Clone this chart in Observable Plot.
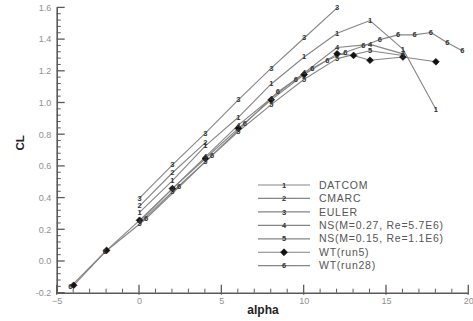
<!DOCTYPE html>
<html><head><meta charset="utf-8">
<script src="https://cdn.jsdelivr.net/npm/d3@7"></script>
<script src="https://cdn.jsdelivr.net/npm/@observablehq/plot@0.6"></script>
<style>body{margin:0;background:#fff}</style>
</head><body><div id="chart"></div>
<script>
// ---- data ----
const seriesNames = ["DATCOM","CMARC","EULER","NS(M=0.27, Re=5.7E6)","NS(M=0.15, Re=1.1E6)","WT(run5)","WT(run28)"];
const seriesSymbols = ["1","2","3","4","5","filled","6"];

const datcomAlpha = [0,2,4,6,8,10,12,14,16,18];
const datcomCL    = [0.31,0.51,0.73,0.91,1.12,1.29,1.44,1.52,1.34,0.96];
const cmarcAlpha  = [0,2,4];
const cmarcCL     = [0.35,0.56,0.75];
const eulerAlpha  = [0,2,4,6,8,10,12];
const eulerCL     = [0.40,0.61,0.81,1.02,1.22,1.41,1.60];
const ns27Alpha   = [0,2,4,6,8,10,12,14,16];
const ns27CL      = [0.25,0.46,0.66,0.86,1.03,1.19,1.35,1.37,1.31];
const ns15Alpha   = [0,2,4,6,8,10,12,14,16];
const ns15CL      = [0.24,0.44,0.63,0.82,0.99,1.15,1.28,1.33,1.30];
const wt5Alpha    = [-4,-2,0,2,4,6,8,10,12,13,14,16,18];
const wt5CL       = [-0.15,0.07,0.26,0.46,0.65,0.84,1.02,1.18,1.31,1.30,1.27,1.29,1.26];
const wt28Alpha   = [-4.2,-2.1,0.4,2.4,4.4,6.4,8.4,9.5,10.5,11.4,12.5,13.6,14.6,15.7,16.7,17.7,18.7,19.6];
const wt28CL      = [-0.16,0.06,0.27,0.47,0.67,0.87,1.07,1.15,1.22,1.27,1.32,1.36,1.40,1.43,1.43,1.445,1.38,1.33];

const xTicks = [-5,0,5,10,15,20];
const yTicks = [-0.2,0,0.2,0.4,0.6,0.8,1.0,1.2,1.4,1.6];
const xMinor = [-4,-3,-2,-1,1,2,3,4,6,7,8,9,11,12,13,14,16,17,18,19];
const yMinor = [-0.16,-0.12,-0.08,-0.04,0.04,0.08,0.12,0.16,0.24,0.28,0.32,0.36,0.44,0.48,0.52,0.56,0.64,0.68,0.72,0.76,0.84,0.88,0.92,0.96,1.04,1.08,1.12,1.16,1.24,1.28,1.32,1.36,1.44,1.48,1.52,1.56];

// ---- build table ----
const alphaSets = [datcomAlpha,cmarcAlpha,eulerAlpha,ns27Alpha,ns15Alpha,wt5Alpha,wt28Alpha];
const clSets = [datcomCL,cmarcCL,eulerCL,ns27CL,ns15CL,wt5CL,wt28CL];
const rows = [];
seriesNames.forEach((name,i)=>{
  alphaSets[i].forEach((a,j)=>rows.push({series:name, alpha:a, cl:clSets[i][j], sym:seriesSymbols[i]}));
});

const xMin = xTicks[0], xMax = xTicks[xTicks.length-1];
const yMin = yTicks[0], yMax = yTicks[yTicks.length-1];
const lineGray = "#858585";
const axisGray = "#5a5a5a";

const plot = Plot.plot({
  width: 473, height: 321,
  marginLeft: 56.7, marginRight: 4.7, marginTop: 7.4, marginBottom: 28.3,
  style: {fontFamily: "'Liberation Sans', Arial, sans-serif", background: "#fff"},
  x: {type: "linear", domain: [xMin, xMax]},
  y: {type: "linear", domain: [yMin, yMax]},
  marks: [
    Plot.axisX({ticks: xTicks, tickSize: 0, tickPadding: 4, fontSize: 9, color: "#909090", label: null}),
    Plot.axisY({ticks: yTicks, tickSize: 0, tickPadding: 6, fontSize: 9, color: "#909090", label: null, tickFormat: d => d.toFixed(1)}),
    // axis lines
    Plot.ruleY([yMin], {stroke: axisGray, strokeWidth: 1.6}),
    Plot.ruleX([xMin], {stroke: axisGray, strokeWidth: 1.6}),
    // data lines
    Plot.line(rows, {x: "alpha", y: "cl", z: "series", stroke: lineGray, strokeWidth: 1.1}),
    Plot.dot(rows.filter(d=>d.sym==="filled"), {x: "alpha", y: "cl", symbol: "diamond2", r: 3, fill: "#111", stroke: "#111", strokeWidth: 0.8}),
    Plot.text(rows.filter(d=>d.sym!=="filled"), {x: "alpha", y: "cl", text: "sym", fontSize: 7.5, fontWeight: "bold", fill: "#333"}),
    // axis titles
    Plot.text(["CL"], {frameAnchor: "left", dx: -37, rotate: -90, fontSize: 11.5, fontWeight: "bold", fill: "#222"}),
    Plot.text(["alpha"], {frameAnchor: "bottom", dy: 20.5, fontSize: 12, fontWeight: "bold", fill: "#222"})
  ]
});
document.getElementById("chart").appendChild(plot);

// inward ticks + legend, drawn in the plot's svg using its scales
const sx = plot.scale("x"), sy = plot.scale("y");
const X = v => sx.apply(v), Y = v => sy.apply(v);
const svg = d3.select(plot);
const tg = svg.append("g").attr("stroke", axisGray);
xTicks.forEach(v => tg.append("line").attr("x1", X(v)).attr("x2", X(v)).attr("y1", Y(yMin)+2).attr("y2", Y(yMin)-8).attr("stroke-width", 1.3));
xMinor.forEach(v => tg.append("line").attr("x1", X(v)).attr("x2", X(v)).attr("y1", Y(yMin)).attr("y2", Y(yMin)-4));
yTicks.forEach(v => tg.append("line").attr("y1", Y(v)).attr("y2", Y(v)).attr("x1", X(xMin)).attr("x2", X(xMin)+8).attr("stroke-width", 1.3));
yMinor.forEach(v => tg.append("line").attr("y1", Y(v)).attr("y2", Y(v)).attr("x1", X(xMin)).attr("x2", X(xMin)+4));

// legend
const lg = svg.append("g").attr("font-family", "'Liberation Sans', Arial, sans-serif").attr("text-anchor", "start");
const lx0 = 258, lx1 = 310, lxs = 284, lxt = 319, ly0 = 185, ldy = 13.45;
seriesNames.forEach((name, i) => {
  const yy = ly0 + i * ldy;
  lg.append("line").attr("x1", lx0).attr("x2", lx1).attr("y1", yy).attr("y2", yy).attr("stroke", lineGray).attr("stroke-width", 1.2);
  if (seriesSymbols[i] === "filled") {
    lg.append("path").attr("d", d3.symbol(d3.symbolDiamond2, 30)()).attr("transform", `translate(${lxs},${yy})`).attr("fill", "#111").attr("stroke", "#111").attr("stroke-width", 0.8);
  } else {
    lg.append("text").attr("x", lxs).attr("y", yy).attr("dy", "0.35em").attr("text-anchor", "middle").attr("font-size", 7.5).attr("font-weight", "bold").attr("fill", "#333").text(seriesSymbols[i]);
  }
  lg.append("text").attr("x", lxt).attr("y", yy).attr("dy", "0.35em").attr("text-anchor", "start").attr("font-size", 10.5).attr("letter-spacing", "0.75px").attr("fill", "#555").text(name);
});
</script>
</body></html>
